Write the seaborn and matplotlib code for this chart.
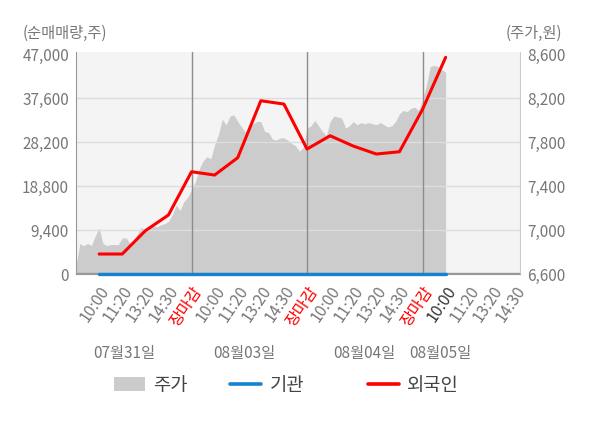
import numpy as np
import pandas as pd
import seaborn as sns
import matplotlib.pyplot as plt
import matplotlib.transforms as mtransforms
from matplotlib.lines import Line2D
from matplotlib.patches import Patch

# x 눈금 라벨 (세션 인덱스 1..19)
tick_labels = ['10:00', '11:20', '13:20', '14:30', '장마감',
               '10:00', '11:20', '13:20', '14:30', '장마감',
               '10:00', '11:20', '13:20', '14:30', '장마감',
               '10:00', '11:20', '13:20', '14:30']
day_labels = ['07월31일', '08월03일', '08월04일', '08월05일']
day_label_pos = [2.1, 7.3, 12.5, 15.75]

# 외국인 / 기관 누적 순매매량 (주)
flow_idx = list(range(1, 17))
foreign = [4320, 4320, 9300, 12660, 21920, 21220, 24920, 37110,
           36400, 26780, 29620, 27420, 25710, 26200, 35270, 46390]
institution = [0] * 16

# 주가 (원), 1/6 세션 간격
price = [6680, 6880, 6860, 6880, 6860, 6950, 7020, 6880, 6860, 6870,
         6870, 6870, 6930, 6930, 6880, 6910, 6970, 7030, 6990, 7020,
         7040, 7030, 7050, 7060, 7080, 7140, 7230, 7180, 7260, 7300,
         7370, 7440, 7560, 7630, 7670, 7650, 7780, 7870, 8010, 7960,
         8040, 8050, 7990, 7940, 7890, 7930, 7970, 7990, 7990, 7900,
         7890, 7830, 7820, 7840, 7840, 7820, 7790, 7770, 7720, 7750,
         7930, 7950, 8000, 7950, 7900, 7860, 7990, 8040, 8030, 8020,
         7930, 7950, 7990, 7960, 7980, 7970, 7980, 7970, 7960, 7980,
         7960, 7940, 7950, 7990, 8060, 8090, 8080, 8110, 8120, 8090,
         8190, 8320, 8490, 8500, 8490, 8460, 8440]
price_idx = np.arange(len(price)) / 6

left_ticks = [0, 9400, 18800, 28200, 37600, 47000]
right_ticks = [6600, 7000, 7400, 7800, 8200, 8600]

sns.set_style('white')
plt.rcParams['font.family'] = ['Noto Sans CJK KR', 'DejaVu Sans']

fig = plt.figure(figsize=(6, 4.28), dpi=100)
ax = fig.add_axes([0.1267, 0.3593, 0.74, 0.5199])
ax2 = ax.twinx()

# 주가 영역 (오른쪽 축)
ax2.fill_between(price_idx, price, 6600, color='#cccccc', lw=0, zorder=1)
ax2.set_ylim(6600, 8625)
ax2.set_yticks(right_ticks)
ax2.set_yticklabels([f'{v:,}' for v in right_ticks])

# 순매매량 (왼쪽 축) - 선은 주가 위에 그림
ax.set_zorder(ax2.get_zorder() + 1)
ax.patch.set_visible(False)
ax2.patch.set_visible(True)
ax2.patch.set_facecolor('#f4f4f4')

for v in left_ticks[1:-1]:
    ax2.axhline(6600 + v / 47000 * 2000, color='#dddddd', lw=1, zorder=2)
ax2.axhline(6600 + 300 / 47000 * 2000, color='#999999', lw=1, zorder=2)
for d in [5, 10, 15]:
    ax2.axvline(d, color='#8c8c8c', lw=1, zorder=2.1)

df = pd.DataFrame({'idx': flow_idx, '외국인': foreign, '기관': institution})
sns.lineplot(data=df, x='idx', y='기관', ax=ax, color='#1582d2', lw=2.4,
             clip_on=False)
sns.lineplot(data=df, x='idx', y='외국인', ax=ax, color='#ff0000', lw=2.2)

ax.set_xlim(0, 19.22)
ax.set_ylim(0, 47600)
ax.set_yticks(left_ticks)
ax.set_yticklabels([f'{v:,}' for v in left_ticks])
ax.set_xlabel('')
ax.set_ylabel('')

ax.set_xticks(range(1, 20))
ax.set_xticklabels(tick_labels, rotation=56, ha='right', va='top',
                   rotation_mode='anchor', fontsize=11.5)
shift = mtransforms.ScaledTranslation(-2 / 100, 0, fig.dpi_scale_trans)
for i, t in enumerate(ax.get_xticklabels()):
    t.set_transform(t.get_transform() + shift)
    if tick_labels[i] == '장마감':
        t.set_color('#ff0000')
    elif i == 15:
        t.set_color('#333333')
    else:
        t.set_color('#777777')

ax.tick_params(axis='x', length=0, pad=6.5)
ax.tick_params(axis='y', length=0, pad=5, labelsize=11, labelcolor='#777777')
ax2.tick_params(axis='y', length=0, pad=5, labelsize=11, labelcolor='#777777')

for a in (ax, ax2):
    for s in a.spines.values():
        s.set_visible(False)
ax2.spines['left'].set_visible(True)
ax2.spines['left'].set_color('#999999')
ax2.spines['right'].set_visible(True)
ax2.spines['right'].set_color('#cccccc')
ax2.spines['bottom'].set_visible(True)
ax2.spines['bottom'].set_color('#999999')

trans = mtransforms.blended_transform_factory(ax.transData, fig.transFigure)
for pos, lab in zip(day_label_pos, day_labels):
    ax.text(pos, 0.175, lab, transform=trans, ha='center', va='center',
            fontsize=11, color='#777777')

fig.text(0.037, 0.923, '(순매매량,주)', ha='left', va='center',
         fontsize=11, color='#777777')
fig.text(0.937, 0.923, '(주가,원)', ha='right', va='center',
         fontsize=11, color='#777777')

# 범례: 항목별 고정 위치
legend_items = [
    (Patch(facecolor='#cccccc', edgecolor='none'), '주가', 114),
    (Line2D([], [], color='#1582d2', lw=2.6), '기관', 230),
    (Line2D([], [], color='#ff0000', lw=2.6), '외국인', 368),
]
for h, lab, px in legend_items:
    fig.legend([h], [lab], loc='center left',
               bbox_to_anchor=(px / 600, 1 - 385 / 428), frameon=False,
               fontsize=13.5, handlelength=1.65, handleheight=0.85,
               handletextpad=0.45, borderpad=0, borderaxespad=0,
               labelcolor='#444444')

fig.savefig('out.png', dpi=100)
